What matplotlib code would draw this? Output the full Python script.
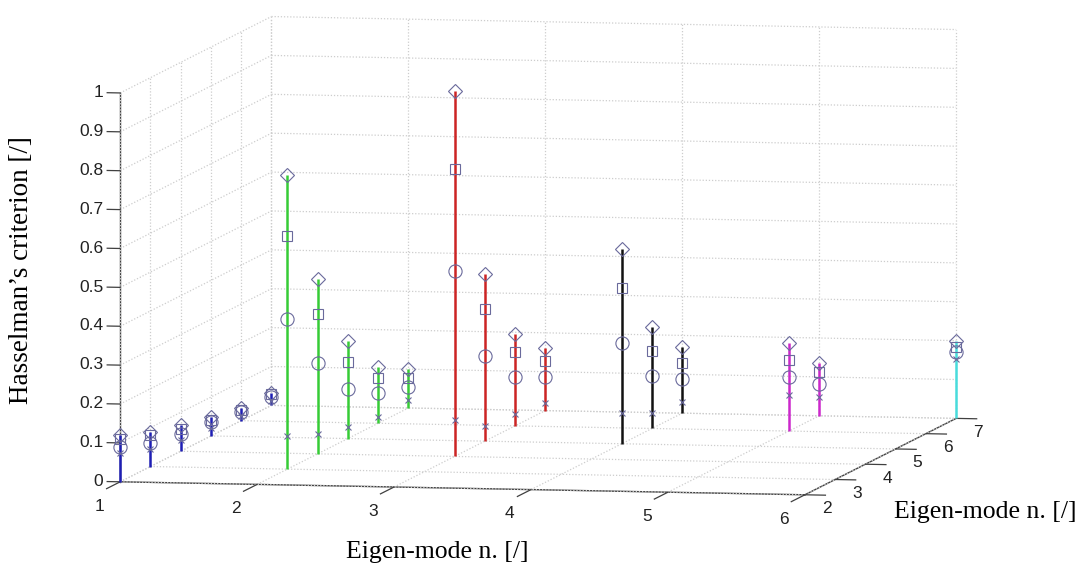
import numpy as np
import matplotlib
matplotlib.use("Agg")
import matplotlib.pyplot as plt

# ---------------- data ----------------
mode_i = [1, 1, 1, 1, 1, 1, 2, 2, 2, 2, 2, 3, 3, 3, 3, 4, 4, 4, 5, 5, 6]
mode_j = [2, 3, 4, 5, 6, 7, 3, 4, 5, 6, 7, 4, 5, 6, 7, 5, 6, 7, 6, 7, 7]
crit_diamond = [0.12, 0.09, 0.068, 0.049, 0.033, 0.032,
                0.757, 0.45, 0.25, 0.144, 0.10,
                0.94, 0.43, 0.237, 0.16,
                0.50, 0.26, 0.17,
                0.226, 0.137,
                0.20]
crit_square = [0.11, 0.08, 0.058, 0.042, 0.028, 0.028,
               0.60, 0.36, 0.197, 0.117, 0.076,
               0.74, 0.34, 0.19, 0.128,
               0.40, 0.20, 0.13,
               0.184, 0.112,
               0.183]
crit_circle = [0.09, 0.06, 0.045, 0.036, 0.023, 0.022,
               0.386, 0.234, 0.127, 0.077, 0.053,
               0.476, 0.22, 0.125, 0.087,
               0.26, 0.134, 0.087,
               0.138, 0.083,
               0.17]
crit_cross = [0.075, 0.045, 0.03, 0.02, 0.012, 0.012,
              0.085, 0.05, 0.03, 0.015, 0.02,
              0.093, 0.04, 0.03, 0.02,
              0.08, 0.04, 0.03,
              0.092, 0.048,
              0.154]
group_colors = {1: "#1e1eb4", 2: "#36cc36", 3: "#cc2424", 4: "#111111",
                5: "#cc28cc", 6: "#48dcdc"}
x_ticks = [1, 2, 3, 4, 5, 6]
y_ticks = [2, 3, 4, 5, 6, 7]
z_ticks = [0, 0.1, 0.2, 0.3, 0.4, 0.5, 0.6, 0.7, 0.8, 0.9, 1]
z_ticklabels = ["0", "0.1", "0.2", "0.3", "0.4", "0.5", "0.6", "0.7", "0.8", "0.9", "1"]

# ---------------- figure ----------------
W, H = 1088, 568
fig = plt.figure(figsize=(W / 100, H / 100), dpi=100)
ax = fig.add_axes([0, 0, 1, 1], projection="3d", proj_type="ortho",
                  computed_zorder=False)

x0, x1 = x_ticks[0], x_ticks[-1]
y0, y1 = y_ticks[0], y_ticks[-1]
z0, z1 = z_ticks[0], z_ticks[-1]

# MATLAB-like dotted grid on floor, left wall and back wall
gr = dict(color="#cdcdcd", ls=(0, (1, 1.5)), lw=0.9, zorder=0.5)
for xv in x_ticks:
    ax.plot([xv, xv], [y0, y1], [z0, z0], **gr)      # floor
    ax.plot([xv, xv], [y1, y1], [z0, z1], **gr)      # back wall
for yv in y_ticks:
    ax.plot([x0, x1], [yv, yv], [z0, z0], **gr)      # floor
    ax.plot([x0, x0], [yv, yv], [z0, z1], **gr)      # left wall
for zv in z_ticks:
    ax.plot([x0, x0], [y0, y1], [zv, zv], **gr)      # left wall
    ax.plot([x0, x1], [y1, y1], [zv, zv], **gr)      # back wall

# stems
for i, j, top in zip(mode_i, mode_j, crit_diamond):
    ax.plot([i, i], [j, j], [0, top], color=group_colors[i], lw=1.8,
            solid_capstyle="butt", zorder=2)

mk = "#6a6a9c"
ax.plot(mode_i, mode_j, crit_diamond, ls="none", marker="D", ms=7.5,
        mfc="none", mec=mk, mew=0.8, zorder=3)
ax.plot(mode_i, mode_j, crit_square, ls="none", marker="s", ms=7,
        mfc="none", mec=mk, mew=0.8, zorder=3)
ax.plot(mode_i, mode_j, crit_circle, ls="none", marker="o", ms=9.5,
        mfc="none", mec=mk, mew=0.8, zorder=3)
ax.plot(mode_i, mode_j, crit_cross, ls="none", marker="x", ms=5,
        mfc="none", mec=mk, mew=0.8, zorder=3)

ax.set_xlim(x0, x1)
ax.set_ylim(y0, y1)
ax.set_zlim(z0, z1)
ax.set_xticks([])
ax.set_yticks([])
ax.set_zticks([])
ax.grid(False)

ax.view_init(elev=5.62, azim=-79.03)
ax.set_box_aspect((1.785, 2.034, 1.0))

for axis in (ax.xaxis, ax.yaxis, ax.zaxis):
    axis.set_pane_color((1, 1, 1, 0))
    axis.pane.set_edgecolor((1, 1, 1, 0))
    axis.line.set_color("#404040")
    axis.line.set_linewidth(1.0)


def to_display(p):
    v = ax.get_proj() @ np.array([p[0], p[1], p[2], 1.0])
    return ax.transData.transform((v[0] / v[3], v[1] / v[3]))


# ---------------- fit box corners to layout ----------------
corner_targets = [((1, 2, 0), (120, 482)), ((6, 2, 0), (805, 495)),
                  ((6, 7, 0), (956, 418)), ((1, 7, 1), (272, 15)),
                  ((1, 2, 1), (120, 93)), ((6, 7, 1), (956, 31))]
for _ in range(3):
    fig.canvas.draw()
    pos = ax.get_position()
    w, h = pos.width * W, pos.height * H
    S0 = min(w, h)
    C0 = (pos.x0 * W + w / 2, pos.y0 * H + h / 2)
    A, b = [], []
    for p, t in corner_targets:
        dx, dy = to_display(p)
        qx, qy = (dx - C0[0]) / S0, (dy - C0[1]) / S0
        A.append([1, 0, qx]); b.append(t[0])
        A.append([0, 1, qy]); b.append(H - t[1])
    Cx, Cy, S = np.linalg.lstsq(np.array(A, float), np.array(b, float), rcond=None)[0]
    ax.set_position([(Cx - S / 2) / W, (Cy - S / 2) / H, S / W, S / H])

# put the z axis line on the left front edge
best = None
for opt in ("lower", "upper", "default"):
    ax.zaxis.set_ticks_position(opt)
    fig.canvas.draw()
    xd = np.mean(ax.zaxis.line.get_xdata())
    if best is None or xd < best[1]:
        best = (opt, xd)
ax.zaxis.set_ticks_position(best[0])
fig.canvas.draw()

# tick marks (MATLAB style, outward)
tk = dict(color="#404040", lw=0.9, zorder=1)
for xv in x_ticks:
    ax.plot([xv, xv], [y0, y0 - 0.45], [z0, z0], **tk)
for yv in y_ticks:
    ax.plot([x1, x1 + 0.15], [yv, yv], [z0, z0], **tk)
for zv in z_ticks:
    ax.plot([x0, x0 - 0.095], [y0, y0], [zv, zv], **tk)

# tick labels: anchored at projected 3D points, drawn as plain 2D text
tfont = dict(family="Liberation Sans", size=12.5, color="#222222")


def label_at(p, s, **kw):
    dx, dy = to_display(p)
    fig.text(dx / W, dy / H, s, **kw)


for xv in x_ticks:
    label_at((xv, y0 - 0.7, z0 - 0.035), str(xv), ha="center", va="center", **tfont)
for yv in y_ticks:
    label_at((x1 + 0.16, yv, z0 - 0.035), str(yv), ha="center", va="center", **tfont)
for zv, zl in zip(z_ticks, z_ticklabels):
    label_at((x0 - 0.124, y0, zv), zl, ha="right", va="center", **tfont)

# axis labels
fig.text(22 / W, 1 - 270 / H, "Hasselman\u2019s criterion [/]", rotation=90,
         ha="center", va="center", family="Liberation Serif", fontsize=19.5)
fig.text(437 / W, 1 - 552 / H, "Eigen-mode n. [/]", ha="center", va="center",
         family="Liberation Serif", fontsize=18.5)
fig.text(985 / W, 1 - 512 / H, "Eigen-mode n. [/]", ha="center", va="center",
         family="Liberation Serif", fontsize=18.5)

fig.savefig("out.png", dpi=100)
